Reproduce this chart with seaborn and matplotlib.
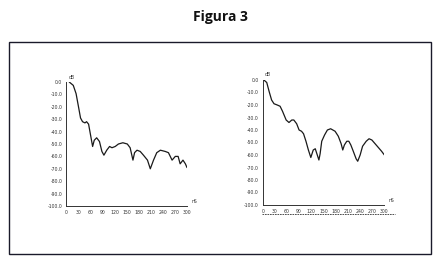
import matplotlib
matplotlib.use("Agg")
import matplotlib.pyplot as plt
import seaborn as sns
import pandas as pd
from matplotlib.patches import Rectangle
from matplotlib.lines import Line2D

sns.set_theme(style="white")
plt.rcParams['font.family'] = ['DejaVu Sans']

title = "Figura 3"
y_unit = "dB"
x_unit = "nS"
x_ticks = [0, 30, 60, 90, 120, 150, 180, 210, 240, 270, 300]
y_ticks = [0, -10, -20, -30, -40, -50, -60, -70, -80, -90, -100]

left_x = [8, 18, 25, 31, 36, 41, 47, 51, 56, 61, 66, 70, 76, 83, 89, 94, 101, 108, 114,
          122, 130, 141, 152, 159, 166, 170, 176, 184, 192, 202, 209, 217, 225, 234,
          246, 254, 263, 271, 278, 283, 290, 296, 300]
left_y = [0, -2.7, -9.4, -20, -29, -32, -33, -32, -34, -43, -52, -47, -45, -48, -56, -59,
          -55, -52, -53, -52, -50, -49, -50, -53, -63, -57, -55, -56, -59, -63, -70, -63,
          -57, -55, -56, -57, -63, -60, -60, -66, -63, -66, -69]

right_x = [3, 10, 16, 22, 28, 36, 43, 49, 58, 65, 72, 77, 84, 90, 96, 101, 107, 113, 119,
           125, 130, 135, 139, 142, 146, 153, 160, 168, 179, 187, 194, 198, 202, 208, 213,
           218, 224, 231, 235, 241, 247, 256, 263, 270, 278, 286, 294, 301]
right_y = [0, -2, -9.3, -16, -19, -20, -21, -25, -32, -34, -32, -32, -35, -40, -41, -43,
           -49, -56, -62, -56, -55, -60, -64, -59, -49, -44, -40, -39, -41, -45, -51, -56,
           -52, -49, -49, -52, -57, -63, -65, -60, -53, -49, -47, -48, -51, -54, -57, -60]

W, H = 439, 268
fig = plt.figure(figsize=(W / 100, H / 100), dpi=100)
fig.patch.set_facecolor("white")

fig.text(220 / W, 1 - 17 / H, title, ha="center", va="center", fontsize=10,
         fontweight="bold", color="#111111", family=["Open Sans", "DejaVu Sans"])

fig.add_artist(Rectangle((9.5 / W, 1 - 254 / H), (431 - 9.5) / W, (254 - 41.5) / H,
                         transform=fig.transFigure, fill=False, edgecolor="#1a1a2a",
                         linewidth=1.0))

def panel(rect, xs, ys):
    ax = fig.add_axes(rect)
    df = pd.DataFrame({"x": xs, "y": ys})
    sns.lineplot(data=df, x="x", y="y", ax=ax, color="#1a1a1a", linewidth=0.9)
    ax.set_xlim(0, 300)
    ax.set_ylim(-100, 0)
    ax.set_xticks(x_ticks)
    ax.set_xticklabels([str(t) for t in x_ticks])
    ax.set_yticks(y_ticks)
    ax.set_yticklabels([f"{t:.1f}" for t in y_ticks])
    ax.tick_params(axis="both", labelsize=3.3, colors="#444444", length=1.2, width=0.5, pad=1.5)
    for lbl in ax.get_xticklabels() + ax.get_yticklabels():
        lbl.set_color("#333333")
    for s in ["top", "right"]:
        ax.spines[s].set_visible(False)
    for s in ["left", "bottom"]:
        ax.spines[s].set_color("#333333")
        ax.spines[s].set_linewidth(0.7)
    ax.set_xlabel("")
    ax.set_ylabel("")
    ax.text(0.02, 1.02, y_unit, transform=ax.transAxes, fontsize=3.3, color="#333333",
            ha="left", va="bottom")
    ax.text(1.04, 0.02, x_unit, transform=ax.transAxes, fontsize=3.3, color="#333333",
            ha="left", va="bottom")
    ax.patch.set_alpha(0)
    return ax

panel([66 / W, 1 - 206 / H, 121 / W, 124 / H], left_x, left_y)
panel([262.7 / W, 1 - 205 / H, 121.3 / W, 125 / H], right_x, right_y)

fig.add_artist(Line2D([262 / W, 395 / W], [1 - 214 / H, 1 - 214 / H], transform=fig.transFigure,
                      color="#333333", linewidth=0.6, linestyle=(0, (2, 1))))

fig.savefig("out.png", dpi=100, facecolor="white")
